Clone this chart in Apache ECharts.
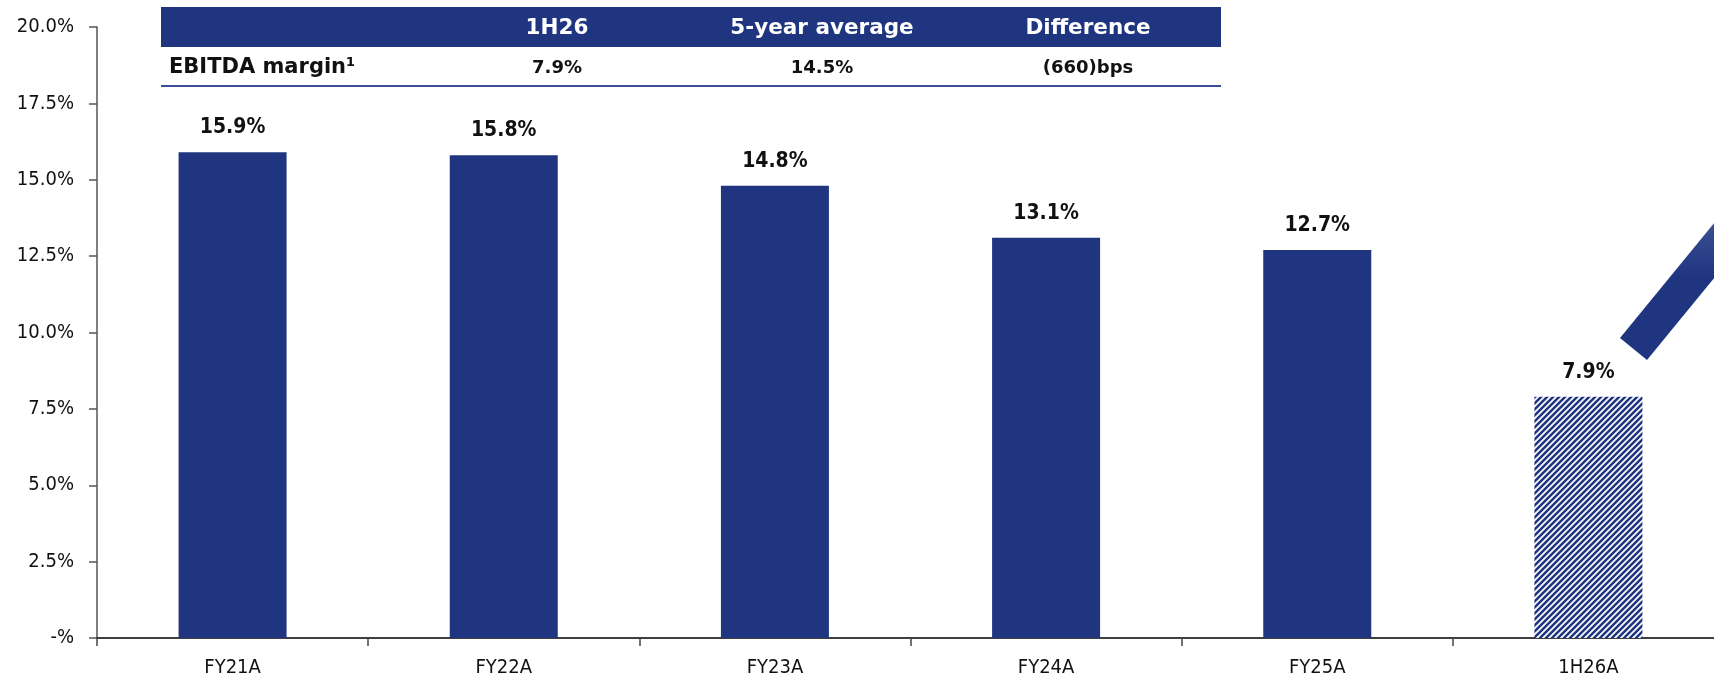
<!DOCTYPE html>
<html>
<head>
<meta charset="utf-8">
<script src="https://cdn.jsdelivr.net/npm/echarts@6/dist/echarts.min.js"></script>
<style>
  html, body { margin: 0; padding: 0; background: #fff; overflow: hidden; }
  /* slightly wider than the window: the last category runs past the right edge */
  #chart { width: 1724px; height: 683px; }
</style>
</head>
<body>
<div id="chart"></div>
<script>
// categories and values (EBITDA margin, %)
var categories = ['FY21A', 'FY22A', 'FY23A', 'FY24A', 'FY25A', '1H26A'];
var margins = [15.9, 15.8, 14.8, 13.1, 12.7, 7.9];
var yTicks = [0, 2.5, 5, 7.5, 10, 12.5, 15, 17.5, 20];

// summary table on top
var tableHeader = ['', '1H26', '5-year average', 'Difference'];
var tableRow = ['EBITDA margin\u00b9', '7.9%', '14.5%', '(660)bps'];

var NAVY = '#1f3580';
var NARROW = '"DejaVu Sans"';
var TABLE_FONT = '"DejaVu Sans", sans-serif';

// hatched fill for the half-year bar
function makeHatch() {
  var s = 6;
  var c = document.createElement('canvas');
  c.width = s; c.height = s;
  var ctx = c.getContext('2d');
  ctx.fillStyle = '#fff';
  ctx.fillRect(0, 0, s, s);
  ctx.strokeStyle = NAVY;
  ctx.lineWidth = 2.5;
  ctx.beginPath();
  ctx.moveTo(-1, s + 1); ctx.lineTo(s + 1, -1);
  ctx.moveTo(-s, s); ctx.lineTo(s, -s);
  ctx.moveTo(0, 2 * s); ctx.lineTo(2 * s, 0);
  ctx.stroke();
  return c;
}

var myChart = echarts.init(document.getElementById('chart'));

var barData = margins.map(function (v, i) {
  if (i === margins.length - 1) {
    return { value: v, itemStyle: { color: { image: makeHatch(), repeat: 'repeat' } } };
  }
  return v;
});

// table graphics
var colX = [169, 557, 822, 1088];
var tableGraphic = [
  { type: 'rect', shape: { x: 161, y: 7, width: 1060, height: 40 }, style: { fill: NAVY }, silent: true },
  { type: 'rect', shape: { x: 161, y: 85, width: 1060, height: 2 }, style: { fill: '#3a4f95' }, silent: true }
];
tableHeader.forEach(function (t, i) {
  if (!t) return;
  tableGraphic.push({
    type: 'text', x: colX[i], y: 28,
    style: { text: t, fill: '#fff', font: 'bold 21.5px ' + TABLE_FONT, align: 'center', verticalAlign: 'middle' }
  });
});
tableRow.forEach(function (t, i) {
  tableGraphic.push({
    type: 'text', x: colX[i], y: 68,
    style: {
      text: t, fill: '#111',
      font: 'bold ' + (i === 0 ? 21 : 18) + 'px ' + TABLE_FONT,
      align: i === 0 ? 'left' : 'center', verticalAlign: 'middle'
    }
  });
});

// the slanted arrow at top right
tableGraphic.push({
  type: 'polygon',
  shape: { points: [[1620, 338], [1647, 360], [1724, 266], [1724, 211]] },
  style: {
    fill: new echarts.graphic.LinearGradient(0, 0, 0, 1, [
      { offset: 0, color: '#3d5597' },
      { offset: 0.45, color: NAVY },
      { offset: 1, color: NAVY }
    ])
  },
  silent: true
});

myChart.setOption({
  animation: false,
  grid: { left: 97, right: 0, top: 27, bottom: 45, containLabel: false },
  xAxis: {
    type: 'category',
    data: categories,
    axisLine: { lineStyle: { color: '#000', width: 1.5 } },
    axisTick: { show: true, length: 8, lineStyle: { color: '#444', width: 1.5 } },
    axisLabel: { color: '#111', fontFamily: NARROW, fontStyle: 'condensed', fontSize: 20, margin: 20 }
  },
  yAxis: {
    type: 'value',
    min: yTicks[0],
    max: yTicks[yTicks.length - 1],
    interval: 2.5,
    splitLine: { show: false },
    axisLine: { show: true, lineStyle: { color: '#555', width: 1.5 } },
    axisTick: { show: true, length: 8, lineStyle: { color: '#555', width: 1.5 } },
    axisLabel: {
      color: '#111', fontFamily: NARROW, fontStyle: 'condensed', fontSize: 20, margin: 23,
      formatter: function (v) { return v === 0 ? '-%' : v.toFixed(1) + '%'; }
    }
  },
  series: [{
    type: 'bar',
    data: barData,
    barWidth: 108,
    itemStyle: { color: NAVY },
    label: {
      show: true,
      position: 'top',
      distance: 14,
      color: '#111',
      fontFamily: NARROW,
      fontStyle: 'condensed',
      fontWeight: 'bold',
      fontSize: 21,
      formatter: function (p) { return p.value.toFixed(1) + '%'; }
    }
  }],
  graphic: tableGraphic
});
</script>
</body>
</html>
